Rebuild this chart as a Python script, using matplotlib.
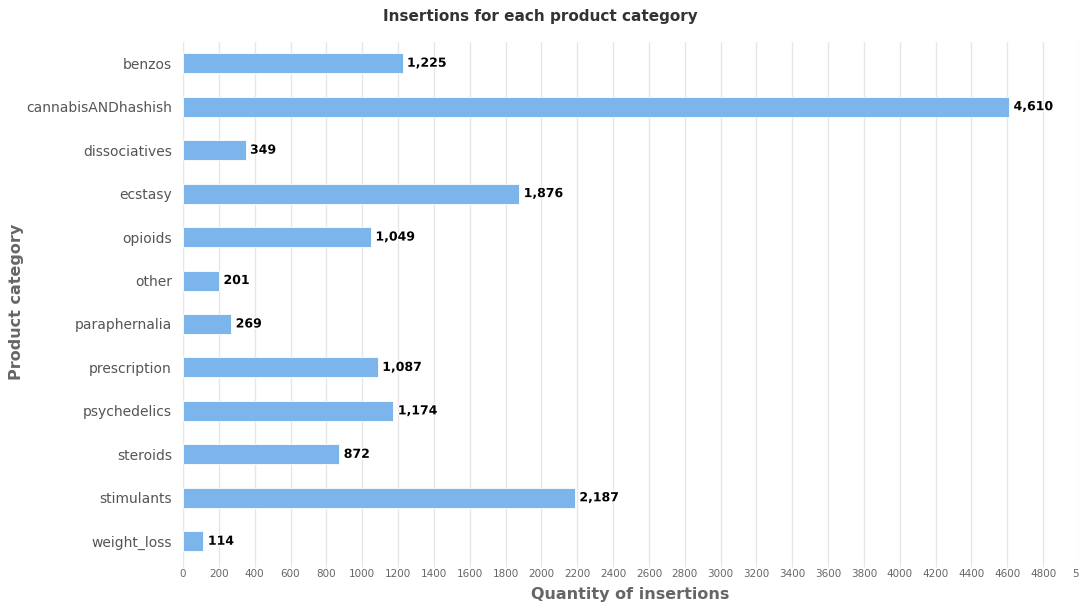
import matplotlib
matplotlib.use("Agg")
import matplotlib.pyplot as plt
import matplotlib.patheffects as pe

categories = ["benzos", "cannabisANDhashish", "dissociatives", "ecstasy", "opioids",
              "other", "paraphernalia", "prescription", "psychedelics", "steroids",
              "stimulants", "weight_loss"]
values = [1225, 4610, 349, 1876, 1049, 201, 269, 1087, 1174, 872, 2187, 114]
xticks = list(range(0, 5001, 200))
xticklabels = [str(t) for t in xticks[:-1]] + ["5"]

plt.rcParams['font.family'] = ['DejaVu Sans']
W, H = 1079, 608
fig = plt.figure(figsize=(W/100, H/100), dpi=100)
left, right, top, bottom = 183, 1079, 41.5, 563
ax = fig.add_axes([left/W, 1 - bottom/H, (right-left)/W, (bottom-top)/H])

y = list(range(len(categories)))
ax.barh(y, values, height=0.46, color="#7cb5ec", edgecolor="white", linewidth=0.6, zorder=3)
for yi, v in zip(y, values):
    ax.text(v + 25, yi, f"{v:,}", va="center", ha="left", fontsize=9, fontweight="bold",
            color="#000000", zorder=4,
            path_effects=[pe.withStroke(linewidth=2, foreground="white")])

ax.set_ylim(len(categories) - 0.5, -0.5)
ax.set_xlim(0, 5000)
ax.set_yticks(y)
ax.set_yticklabels(categories, fontsize=10, color="#555555")
ax.set_xticks(xticks)
ax.set_xticklabels(xticklabels, fontsize=7.5, color="#666666")
ax.get_xticklabels()[-1].set_horizontalalignment("right")
ax.tick_params(axis="y", length=0, pad=8)
ax.tick_params(axis="x", length=3, color="#e6e6e6", pad=1)
ax.grid(axis="x", color="#e6e6e6", linewidth=1, zorder=0)
for s in ["top", "right", "bottom"]:
    ax.spines[s].set_visible(False)
ax.spines["left"].set_color("#e6e6e6")

fig.text(630/W, 1 - 595/H, "Quantity of insertions", ha="center", va="center",
         fontsize=11.5, color="#666666", fontweight="bold")
fig.text(17/W, 1 - 302/H, "Product category", ha="center", va="center", rotation=90,
         fontsize=11.5, color="#666666", fontweight="bold")
fig.text(540/W, 1 - 17/H, "Insertions for each product category", ha="center", va="center",
         fontsize=11, color="#333333", fontweight="bold")

fig.savefig("out.png", dpi=100)
